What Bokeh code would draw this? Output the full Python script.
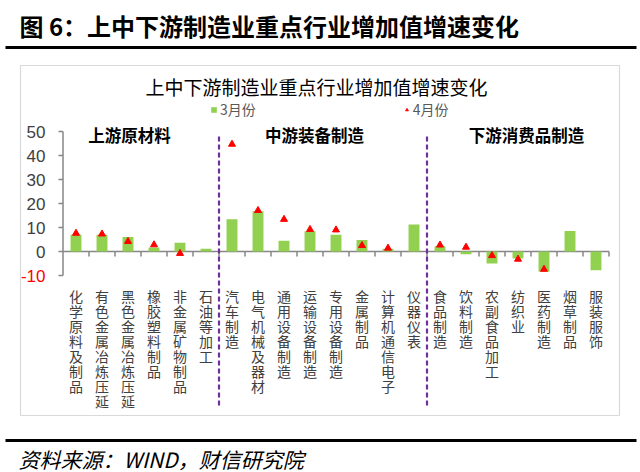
from bokeh.plotting import figure
from bokeh.models import Range1d, Legend, LegendItem
from bokeh.core.properties import value
from bokeh.embed import file_html
from bokeh.resources import INLINE

# ---------------- data ----------------
categories = ["化学原料及制品", "有色金属冶炼压延", "黑色金属冶炼压延", "橡胶塑料制品",
              "非金属矿物制品", "石油等加工", "汽车制造", "电气机械及器材", "通用设备制造",
              "运输设备制造", "专用设备制造", "金属制品", "计算机通信电子", "仪器仪表",
              "食品制造", "饮料制造", "农副食品加工", "纺织业", "医药制造", "烟草制品", "服装服饰"]
march = [7.0, 7.0, 6.0, 1.7, 3.6, 1.1, 13.4, 16.8, 4.5, 8.4, 7.0, 4.8, 1.1, 11.2,
         2.2, -1.1, -5.0, -2.9, -8.4, 8.5, -7.8]
april = [7.6, 7.3, 4.2, 2.8, -0.8, None, 44.7, 17.1, 13.4, 9.2, 9.0, 2.5, 1.4, None,
         2.7, 1.8, -1.7, -3.2, -7.4, None, None]
groups = ["上游原材料", "中游装备制造", "下游消费品制造"]
group_sizes = [6, 8, 7]
y_ticks = [-10, 0, 10, 20, 30, 40, 50]
series_names = ["3月份", "4月份"]
chart_title = "上中下游制造业重点行业增加值增速变化"
header = "图 6：上中下游制造业重点行业增加值增速变化"
footer = "资料来源：WIND，财信研究院"

# ---------------- layout helpers ----------------
W, H = 640, 472
PPU = 2.4          # pixels per value unit
ZERO_PY = 251      # pixel row of value 0
X0_PX = 75.5       # pixel column of first category
STEP = 26          # pixels per category

def yd(py):
    return (ZERO_PY - py) / PPU

def xd(px):
    return (px - X0_PX) / STEP

CJK = value("Noto Sans CJK SC")
GREEN = "#92D050"
RED = "#FF0000"
AXIS = "#868686"
TXT = "#404040"

p = figure(width=W, height=H, x_range=Range1d(xd(0), xd(W)), y_range=Range1d(yd(H), yd(0)),
           x_axis_type=None, y_axis_type=None, output_backend="svg", toolbar_location=None,
           min_border=0, outline_line_color=None)
p.grid.visible = False
p.background_fill_color = "white"

n = len(categories)
idx = list(range(n))

# chart box
p.quad(left=[xd(20)], right=[xd(619)], top=[yd(65)], bottom=[yd(415)],
       fill_color=None, line_color="#D9D9D9", line_width=1.2)

# header / footer
p.segment(x0=[xd(5)], x1=[xd(636)], y0=[yd(47)], y1=[yd(47)], line_color="black", line_width=3)
p.segment(x0=[xd(5)], x1=[xd(636)], y0=[yd(440)], y1=[yd(440)], line_color="black", line_width=3)
p.text(x=[xd(19)], y=[yd(25)], text=[header], text_font=CJK, text_font_size="24px",
       text_font_style="bold", text_baseline="middle", text_align="left", text_color="black")
p.text(x=[xd(18)], y=[yd(458)], text=[footer], text_font=CJK, text_font_size="21px",
       text_font_style="italic", text_baseline="middle", text_align="left", text_color="black")

# chart title
p.text(x=[xd(316)], y=[yd(86)], text=[chart_title], text_font=CJK, text_font_size="19px",
       text_baseline="middle", text_align="center", text_color="black")

# axes
p.segment(x0=[-0.5], x1=[n - 0.5], y0=[0], y1=[0], line_color=AXIS, line_width=1.5)
tick_x = [k - 0.5 for k in range(1, n + 1)]
p.segment(x0=tick_x, x1=tick_x, y0=[0] * n, y1=[-5 / PPU] * n, line_color=AXIS, line_width=1.5)
p.segment(x0=[-0.5], x1=[-0.5], y0=[min(y_ticks)], y1=[max(y_ticks)], line_color=AXIS, line_width=1.5)
p.segment(x0=[-0.5 - 4.5 / STEP] * len(y_ticks), x1=[-0.5] * len(y_ticks), y0=y_ticks, y1=y_ticks,
          line_color=AXIS, line_width=1.5)
p.text(x=[xd(45)] * len(y_ticks), y=y_ticks, text=[str(t) for t in y_ticks],
       text_color=[RED if t < 0 else TXT for t in y_ticks], text_font=value("Liberation Sans"),
       text_font_size="17px", text_align="right", text_baseline="middle")

# bars and markers
bars = p.vbar(x=idx, top=march, bottom=0, width=0.42, fill_color=GREEN, line_color=None)
ax = [i for i, v in enumerate(april) if v is not None]
ay = [v for v in april if v is not None]
tris = p.scatter(x=ax, y=ay, marker="triangle", size=7, fill_color=RED, line_color=RED)

# group separators and titles
bounds = []
acc = 0
for s in group_sizes:
    bounds.append(acc - 0.5)
    acc += s
bounds.append(acc - 0.5)
sep = bounds[1:-1]
p.segment(x0=sep, x1=sep, y0=[yd(136)] * len(sep), y1=[yd(408)] * len(sep),
          line_color="#7030A0", line_width=2.2, line_dash="5 3")
centers = [xd(129), xd(314), xd(526)]
p.text(x=centers, y=[yd(134)] * 3, text=groups, text_font=CJK, text_font_size="16.5px",
       text_font_style="bold", text_align="center", text_baseline="middle", text_color="black")

# category labels, stacked vertically
p.text(x=idx, y=[yd(285)] * n, text=["\n".join(c) for c in categories], text_font=CJK,
       text_font_size="14px", text_line_height=0.755, text_align="center", text_baseline="top",
       text_color=TXT)

# legend
legend = Legend(items=[LegendItem(label=series_names[0], renderers=[bars]),
                       LegendItem(label=series_names[1], renderers=[tris])],
                orientation="horizontal", location=(210, H - 119), spacing=147,
                padding=0, margin=0, border_line_color=None, background_fill_alpha=0,
                glyph_width=7, glyph_height=7, label_standoff=3,
                label_text_font="Noto Sans CJK SC", label_text_font_size="14px",
                label_text_color="#595959", label_height=16)
p.add_layout(legend)

open("out.html", "w").write(file_html(p, INLINE))
